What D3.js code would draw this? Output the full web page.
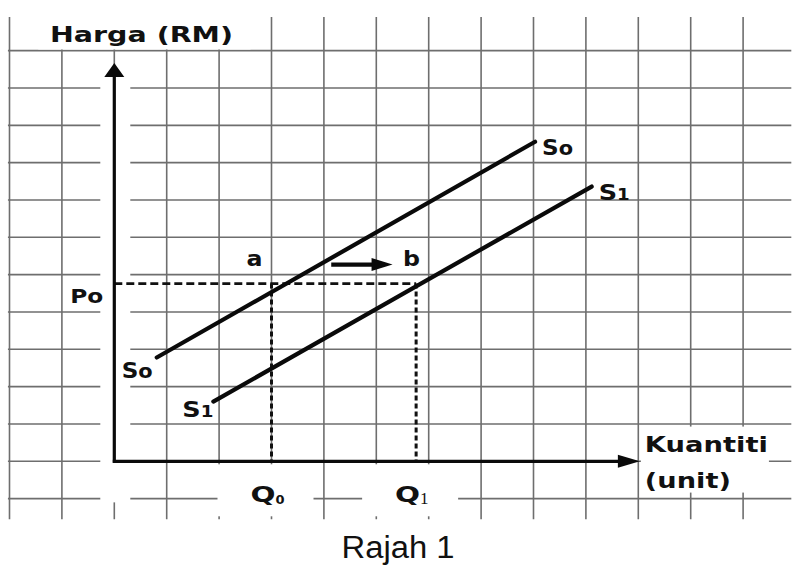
<!DOCTYPE html>
<html><head><meta charset="utf-8">
<script src="https://cdn.jsdelivr.net/npm/d3@7"></script>
<style>body{margin:0;background:#fff}svg{display:block}</style>
</head><body><svg id="c" width="796" height="572"></svg>
<script>
// ---- data (grid-cell units, origin at the axes) ----
const gridCols = [-2,-1,0,1,2,3,4,5,6,7,8,9,10,11,12];
const gridRows = [-1,0,1,2,3,4,5,6,7,8,9,10,11];
const supplyNames = ["0","1"];
const supplyQty = [[0.81, 8.03], [1.89, 9.11]];
const supplyPrice = [[2.78, 8.56], [1.60, 7.36]];
const priceLevel = 4.76;
const qtyLevels = [3.0, 5.76];
const qtySubs = ["0","1"];
const pointLabels = ["a","b"];
const axisTitles = ["Harga (RM)", "Kuantiti", "(unit)"];
const caption = "Rajah 1";
const axisExtent = [10.03, 10.67];

const svg = d3.select("#c");
const x = d3.scaleLinear().domain([0,10]).range([114.3, 638.3]);
const y = d3.scaleLinear().domain([0,10]).range([461.3, 88.0]);
const BOLD = "'DejaVu Sans', Verdana, sans-serif";

svg.append("rect").attr("width",796).attr("height",572).attr("fill","#fff");

// ---- grid ----
const grid = svg.append("g").attr("stroke","#6e6e6e").attr("stroke-width",1.6);
grid.selectAll("line.v").data(gridCols).join("line").attr("class","v")
  .attr("x1",d=>x(d)).attr("x2",d=>x(d)).attr("y1",y(11.9)).attr("y2",y(-1.55));
grid.selectAll("line.h").data(gridRows).join("line").attr("class","h")
  .attr("y1",d=>y(d)).attr("y2",d=>y(d)).attr("x1",x(-2.03)).attr("x2",x(12.92));

// ---- white masks (scanned-paper label backgrounds) ----
const masks = svg.append("g").attr("fill","#fff");
masks.append("rect").attr("x",x(-1.45)).attr("y",0).attr("width",x(2.6)-x(-1.45)).attr("height",y(11)-1.2);
masks.append("rect").attr("x",x(0)-14).attr("y",y(10.3)).attr("width",30).attr("height",y(-1.1)-y(10.3));
qtyLevels.forEach(q=>{
  masks.append("rect").attr("x",x(q)-54).attr("y",y(0)+3).attr("width",96).attr("height",52);
});
masks.append("rect").attr("x",x(10.05)).attr("y",y(0.93)).attr("width",128).attr("height",66);

// ---- dashed guides ----
const dash = svg.append("g").attr("stroke","#111").attr("fill","none");
dash.append("line").attr("x1",x(0)).attr("x2",x(qtyLevels[1])).attr("y1",y(priceLevel)).attr("y2",y(priceLevel))
  .attr("stroke-width",2.6).attr("stroke-dasharray","8,4");
dash.selectAll("line.q").data(qtyLevels).join("line").attr("class","q")
  .attr("x1",d=>x(d)).attr("x2",d=>x(d)).attr("y1",y(priceLevel)).attr("y2",y(0))
  .attr("stroke-width",3).attr("stroke-dasharray","5,3");

// ---- supply curves ----
const line = d3.line().x(d=>x(d[0])).y(d=>y(d[1]));
supplyNames.forEach((n,i)=>{
  const pts = supplyQty[i].map((q,k)=>[q, supplyPrice[i][k]]);
  svg.append("path").attr("d",line(pts)).attr("stroke","#0a0a0a").attr("stroke-width",4.2)
    .attr("stroke-linecap","round").attr("fill","none");
});

// ---- axes ----
const ax = svg.append("g").attr("stroke","#0a0a0a").attr("stroke-width",3.2);
ax.append("line").attr("x1",x(0)).attr("x2",x(0)).attr("y1",y(0)+1.5).attr("y2",y(axisExtent[1])+12);
ax.append("line").attr("x1",x(0)-1.5).attr("x2",x(axisExtent[0])-18).attr("y1",y(0)).attr("y2",y(0));
svg.append("path").attr("fill","#0a0a0a")
  .attr("d",`M${x(0)},${y(axisExtent[1])} L${x(0)-10},${y(axisExtent[1])+14} L${x(0)+10},${y(axisExtent[1])+14}Z`);
svg.append("path").attr("fill","#0a0a0a")
  .attr("d",`M${x(axisExtent[0])},${y(0)} L${x(axisExtent[0])-22},${y(0)-6.5} L${x(axisExtent[0])-22},${y(0)+6.5}Z`);

// ---- text helpers ----
function bold(t, px, py, size, len){
  const e = svg.append("text").attr("x",px).attr("y",py).attr("font-family",BOLD)
    .attr("font-weight","bold").attr("font-size",size).attr("fill","#111").text(t);
  if(len) e.attr("textLength",len).attr("lengthAdjust","spacingAndGlyphs");
  return e;
}

// axis titles
bold(axisTitles[0], 50, 41.5, 22, 183);
bold(axisTitles[1], x(axisExtent[0])+5, y(0)-9, 22, 123);
bold(axisTitles[2], x(axisExtent[0])+5, y(0)+27, 22, 86);

// P0
bold("Po", x(0)-44, y(priceLevel)+19, 20, 33);

// supply labels (lower ends and upper ends)
supplyNames.forEach((n,i)=>{
  const lo = [x(supplyQty[i][0]), y(supplyPrice[i][0])];
  const hi = [x(supplyQty[i][1]), y(supplyPrice[i][1])];
  const sub = i===0 ? "o" : "1";
  const offLo = i===0 ? [-35, 20] : [-31, 15];
  const t1 = bold("S", lo[0]+offLo[0], lo[1]+offLo[1], 21);
  t1.append("tspan").attr("font-size", i===0?19:15).text(sub);
  t1.attr("textLength",31).attr("lengthAdjust","spacingAndGlyphs");
  const t2 = bold("S", hi[0]+7, hi[1]+13.5, 21);
  t2.append("tspan").attr("font-size", i===0?19:15).text(sub);
  t2.attr("textLength",31).attr("lengthAdjust","spacingAndGlyphs");
});

// Q labels
qtyLevels.forEach((q,i)=>{
  const t = bold("Q", x(q)-21, y(0)+41, 22, 25);
  svg.append("text").attr("x",x(q)+4+ (i?-0:0)).attr("y",y(0)+43)
    .attr("font-family", i===0 ? BOLD : "'Liberation Serif', serif")
    .attr("font-weight", i===0 ? "bold" : "normal")
    .attr("font-size", i===0 ? 13 : 17).attr("fill","#111").text(qtySubs[i]);
});

// point labels a, b and shift arrow
bold(pointLabels[0], x(qtyLevels[0])-25, y(priceLevel)-18, 21, 16);
bold(pointLabels[1], x(qtyLevels[1])-13, y(priceLevel)-18, 21, 17);
const ay = y(priceLevel)-19;
svg.append("line").attr("x1",x(4.14)).attr("x2",x(4.95)).attr("y1",ay).attr("y2",ay)
  .attr("stroke","#0a0a0a").attr("stroke-width",4.2);
svg.append("path").attr("fill","#0a0a0a")
  .attr("d",`M${x(5.31)},${ay} L${x(4.91)},${ay-6.5} L${x(4.91)},${ay+6.5}Z`);

// caption
svg.append("text").attr("x",398).attr("y",558).attr("text-anchor","middle")
  .attr("font-family","'Liberation Sans', Arial, sans-serif").attr("font-size",31)
  .attr("fill","#111").attr("textLength",113).attr("lengthAdjust","spacingAndGlyphs").text(caption);
</script></body></html>
